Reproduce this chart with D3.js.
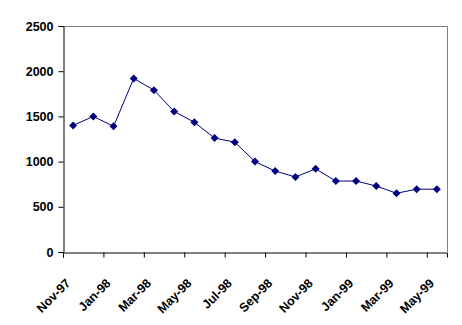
<!DOCTYPE html>
<html>
<head>
<meta charset="utf-8">
<script src="https://cdn.jsdelivr.net/npm/d3@7"></script>
<style>
  body { margin: 0; background: #fff; }
  text { font-family: "Liberation Sans", Arial, sans-serif; font-weight: bold; font-size: 12.5px; fill: #000; }
</style>
</head>
<body>
<div id="chart"></div>
<script>
// Chart data
var months = ["Nov-97", "Dec-97", "Jan-98", "Feb-98", "Mar-98", "Apr-98", "May-98", "Jun-98",
  "Jul-98", "Aug-98", "Sep-98", "Oct-98", "Nov-98", "Dec-98", "Jan-99", "Feb-99",
  "Mar-99", "Apr-99", "May-99"];
var values = [1400, 1500, 1390, 1920, 1790, 1555, 1435, 1260, 1215, 1000, 895, 830, 920,
  785, 785, 730, 650, 695, 695];
var yTicks = [0, 500, 1000, 1500, 2000, 2500];

var svgWidth = 462;
var svgHeight = 325;
var margin = { top: 26, right: 15, bottom: 73, left: 63 };
var width = svgWidth - margin.left - margin.right;
var height = svgHeight - margin.top - margin.bottom;

var svg = d3.select("#chart")
  .append("svg")
  .attr("width", svgWidth)
  .attr("height", svgHeight);

var chartGroup = svg.append("g")
  .attr("transform", `translate(${margin.left}, ${margin.top})`);

// Scales
var x = d3.scaleBand()
  .domain(months)
  .range([0, width])
  .padding(0);

var xEdge = d3.scaleLinear()
  .domain([0, months.length])
  .range([0, width]);

var y = d3.scaleLinear()
  .domain([0, 2500])
  .range([height, 0]);

// Plot frame (top and right grey)
chartGroup.append("path")
  .attr("d", `M0.5,0.5H${width + 0.5}V${height}`)
  .attr("fill", "none")
  .attr("stroke", "#808080");

// Y axis
var yAxis = chartGroup.append("g")
  .attr("transform", "translate(0.5,0)")
  .call(d3.axisLeft(y).tickValues(yTicks).tickFormat(d3.format("d")).tickSize(5).tickPadding(5));
yAxis.selectAll("text").attr("font-size", null).attr("font-family", null);
yAxis.attr("font-size", null).attr("font-family", null);

// X axis ticks at category boundaries
var tickIdx = d3.range(0, months.length, 2);
var xAxis = chartGroup.append("g")
  .attr("transform", `translate(0, ${height + 0.5})`)
  .call(d3.axisBottom(xEdge).tickValues(tickIdx).tickSize(5).tickFormat(""));

chartGroup.selectAll(".domain").attr("stroke", "#000");
chartGroup.selectAll(".tick line").attr("stroke", "#000");

// X labels, rotated
chartGroup.selectAll(".xlabel")
  .data(tickIdx)
  .enter()
  .append("text")
  .attr("class", "xlabel")
  .attr("text-anchor", "end")
  .attr("transform", d => `translate(${x(months[d]) + x.bandwidth() / 2 - 2}, ${height + 32})rotate(-45)`)
  .text(d => months[d]);

// Line
var line = d3.line()
  .x((d, i) => x(months[i]) + x.bandwidth() / 2)
  .y(d => y(d));

chartGroup.append("path")
  .datum(values)
  .attr("fill", "none")
  .attr("stroke", "#000080")
  .attr("stroke-width", 1)
  .attr("d", line);

// Diamond markers
chartGroup.selectAll(".marker")
  .data(values)
  .enter()
  .append("path")
  .attr("class", "marker")
  .attr("d", "M0,-4L4,0L0,4L-4,0Z")
  .attr("transform", (d, i) => `translate(${x(months[i]) + x.bandwidth() / 2}, ${y(d)})`)
  .attr("fill", "#000080");
</script>
</body>
</html>
